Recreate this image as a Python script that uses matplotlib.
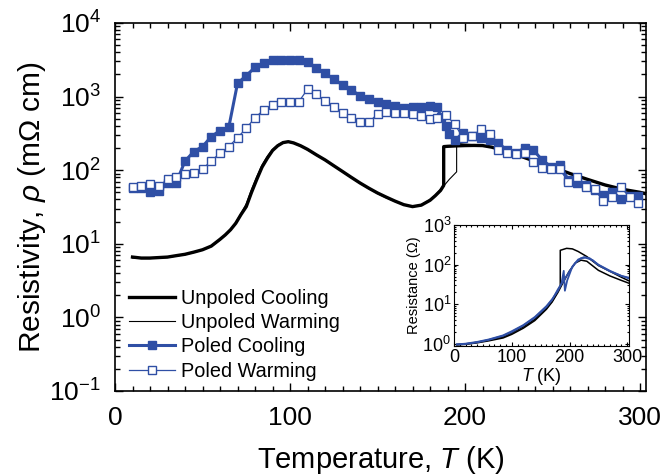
import numpy as np
import matplotlib
matplotlib.use('Agg')
from matplotlib import pyplot as plt
from matplotlib.ticker import MultipleLocator, LogLocator, NullFormatter

plt.rcParams['font.family'] = ['Liberation Sans', 'DejaVu Sans']
plt.rcParams['mathtext.fontset'] = 'custom'
plt.rcParams['mathtext.rm'] = 'Liberation Sans'
plt.rcParams['mathtext.it'] = 'Liberation Sans:italic'
plt.rcParams['axes.unicode_minus'] = False

blue = '#2f4fa5'

# Main panel: unpoled (continuous curves)
unpoled_cool_T = [10, 15, 20, 25, 30, 35, 40, 45, 50, 55, 60, 63, 66, 69, 72, 75, 78, 81, 84, 87,
                  90, 93, 96, 99, 102, 106, 110, 115, 120, 125, 130, 135, 140, 145, 150, 155, 160,
                  165, 170, 175, 180, 183, 186, 187.8, 187.8, 190, 195, 200, 205, 210, 215, 220,
                  225, 230, 240, 250, 260, 270, 280, 290, 300, 303]
unpoled_cool_rho = [6.6, 6.4, 6.4, 6.5, 6.6, 6.9, 7.2, 7.7, 8.3, 9.3, 11.5, 13.2, 15.5, 19, 25, 32,
                    50, 75, 110, 145, 185, 215, 237, 244, 235, 215, 192, 162, 138, 115, 96, 80, 67,
                    57, 49, 43, 38, 34, 32, 33.5, 39, 45, 53, 62, 209, 211, 214, 216, 217, 216, 206,
                    192, 176, 160, 132, 110, 90, 75, 63, 55, 50, 48]

unpoled_warm_T = [10, 15, 20, 25, 30, 35, 40, 45, 50, 55, 60, 63, 66, 69, 72, 75, 78, 81, 84, 87,
                  90, 93, 96, 99, 102, 106, 110, 115, 120, 125, 130, 135, 140, 145, 150, 155, 160,
                  165, 170, 175, 180, 183, 186, 187.6, 191, 195.2, 195.2, 200, 205, 210, 215, 220,
                  225, 230, 240, 250, 260, 270, 280, 290, 300, 303]
unpoled_warm_rho = [6.4, 6.3, 6.3, 6.4, 6.5, 6.8, 7.1, 7.6, 8.2, 9.2, 11.2, 13, 15.5, 19.5, 26, 35,
                    55, 82, 118, 155, 192, 222, 240, 242, 232, 212, 188, 160, 136, 114, 95, 79, 66,
                    56, 48, 42, 37.5, 34, 32, 34, 40, 46, 55, 60, 75, 95, 232, 226, 222, 218, 208,
                    194, 177, 161, 133, 110, 90, 74, 62, 54, 49, 47]

# Main panel: poled (point data)
poled_cool_T = [10, 15, 20, 25, 30, 35, 40, 45, 50, 55, 60, 65, 70, 75, 80, 85, 90, 95, 100, 105,
                110, 115, 120, 125, 130, 135, 140, 145, 150, 155, 160, 165, 170, 175, 180, 184,
                186.5, 189, 191, 194, 199, 204, 209, 214, 219, 224, 229, 234, 239, 244, 249, 254,
                259, 264, 269, 274, 279, 284, 289, 294, 299]
poled_cool_rho = [57, 58, 51, 52, 66, 68, 133, 179, 209, 286, 345, 382, 1514, 1924, 2500, 2890,
                  3140, 3140, 3140, 3140, 2925, 2474, 2070, 1734, 1438, 1230, 1030, 928, 853, 794,
                  754, 708, 730, 730, 745, 716, 520, 400, 310, 257, 316, 294, 271, 257, 232, 188,
                  169, 202, 188, 138, 112, 118, 74, 68, 63, 54, 46, 51, 41, 44, 44]

poled_warm_T = [10, 15, 20, 25, 30, 35, 40, 45, 50, 55, 60, 65, 70, 75, 80, 85, 90, 95, 100, 105,
                110, 115, 120, 125, 130, 135, 140, 145, 150, 155, 160, 165, 170, 175, 180, 184,
                189, 194, 199, 204, 209, 214, 219, 224, 229, 234, 239, 244, 249, 254, 259, 264,
                269, 274, 279, 284, 289, 294, 299]
poled_warm_rho = [59.7, 61.6, 64.2, 61, 75, 80, 88, 92, 103, 135, 169, 209, 277, 371, 518, 658,
                  761, 836, 853, 853, 1256, 1074, 881, 715, 605, 507, 456, 447, 581, 624, 605, 593,
                  581, 551, 497, 507, 563, 425, 271, 292, 359, 310, 188, 169, 166, 169, 128, 108,
                  103, 103, 70, 80, 60, 55, 38, 43, 58.5, 43, 36]

# Inset: resistance curves
in_a_T = [5, 20, 40, 60, 85, 100, 120, 140, 160, 170, 180, 184, 184, 190, 195, 205, 215, 230, 250,
          270, 290, 303]
in_a_R = [0.97, 1.0, 1.1, 1.25, 1.5, 1.9, 2.7, 4.2, 8, 12, 22, 30, 230, 245, 258, 250, 215, 160,
          95, 68, 48, 39]
in_b_T = [5, 20, 40, 60, 85, 100, 120, 140, 160, 170, 180, 190, 200, 210, 220, 230, 250, 270, 290,
          303]
in_b_R = [0.95, 0.98, 1.07, 1.2, 1.42, 1.75, 2.5, 3.9, 7.5, 11.5, 20, 38, 70, 110, 130, 122, 72,
          52, 40, 34]
in_c_T = [5, 20, 40, 60, 85, 100, 120, 140, 160, 170, 180, 186, 190, 192, 196, 205, 215, 225, 235,
          250, 270, 290, 303]
in_c_R = [0.98, 1.02, 1.13, 1.3, 1.65, 2.1, 3.0, 4.8, 9, 13.5, 22, 33, 70, 22, 40, 90, 135, 155,
          145, 100, 70, 52, 45]
in_d_T = [5, 20, 40, 60, 85, 100, 120, 140, 160, 170, 180, 190, 200, 210, 220, 228, 240, 250, 270,
          290, 303]
in_d_R = [0.97, 1.0, 1.1, 1.27, 1.6, 2.0, 2.9, 4.6, 8.6, 13, 24, 40, 68, 110, 145, 150, 130, 98,
          68, 52, 47]

fig = plt.figure(figsize=(6.64, 4.76), dpi=100)
ax = fig.add_axes([0.1732, 0.1786, 0.7997, 0.7731])

ax.plot(unpoled_cool_T, unpoled_cool_rho, color='black', lw=2.4, label='Unpoled Cooling')
ax.plot(unpoled_warm_T, unpoled_warm_rho, color='black', lw=0.8, label='Unpoled Warming')
ax.plot(poled_cool_T, poled_cool_rho, color=blue, lw=2.2, marker='s', ms=5.2,
        mfc=blue, mec=blue, label='Poled Cooling')
ax.plot(poled_warm_T, poled_warm_rho, color=blue, lw=0.9, marker='s', ms=5.2,
        mfc='white', mec=blue, mew=1.0, label='Poled Warming')

ax.set_yscale('log')
ax.set_xlim(0, 303.4)
ax.set_ylim(0.1, 1e4)
ax.xaxis.set_major_locator(MultipleLocator(100))
ax.xaxis.set_minor_locator(MultipleLocator(10))
ax.yaxis.set_major_locator(LogLocator(base=10, numticks=10))
ax.yaxis.set_minor_locator(LogLocator(base=10, subs=np.arange(2, 10), numticks=10))
ax.yaxis.set_minor_formatter(NullFormatter())
ax.tick_params(which='both', direction='in', top=True, right=True, labelsize=19, width=1.0)
ax.tick_params(which='major', length=6)
ax.tick_params(which='minor', length=3.5)
ax.tick_params(axis='x', pad=11)
ax.tick_params(axis='y', pad=10)
for s in ax.spines.values():
    s.set_linewidth(1.2)

ax.set_xlabel(r'Temperature, $T$ (K)', fontsize=21, labelpad=10)
ax.set_ylabel(r'Resistivity, $\rho$ (m$\Omega$ cm)', fontsize=21.5, labelpad=1)

ax.legend(loc='lower left', bbox_to_anchor=(0.0, -0.01), frameon=False, fontsize=14.3,
          handlelength=2.3, handletextpad=0.3, labelspacing=0.27, borderaxespad=0.3)

# Inset
ins = fig.add_axes([0.6837, 0.2731, 0.2636, 0.2542])
ins.plot(in_a_T, in_a_R, color='black', lw=1.1)
ins.plot(in_b_T, in_b_R, color='black', lw=1.1)
ins.plot(in_c_T, in_c_R, color=blue, lw=1.3)
ins.plot(in_d_T, in_d_R, color=blue, lw=1.3)
ins.set_yscale('log')
ins.set_xlim(0, 303)
ins.set_ylim(0.89, 1000)
ins.xaxis.set_major_locator(MultipleLocator(100))
ins.xaxis.set_minor_locator(MultipleLocator(10))
ins.yaxis.set_major_locator(LogLocator(base=10, numticks=10))
ins.yaxis.set_minor_locator(LogLocator(base=10, subs=np.arange(2, 10), numticks=10))
ins.yaxis.set_minor_formatter(NullFormatter())
ins.tick_params(which='both', direction='in', top=True, right=True, labelsize=13, width=0.8, pad=2)
ins.tick_params(which='major', length=3)
ins.tick_params(which='minor', length=1.5)
ins.set_xlabel(r'$T$ (K)', fontsize=13, labelpad=0)
ins.set_ylabel('Resistance (Ω)', fontsize=10.5, labelpad=1)

fig.savefig('out.png', dpi=100)
